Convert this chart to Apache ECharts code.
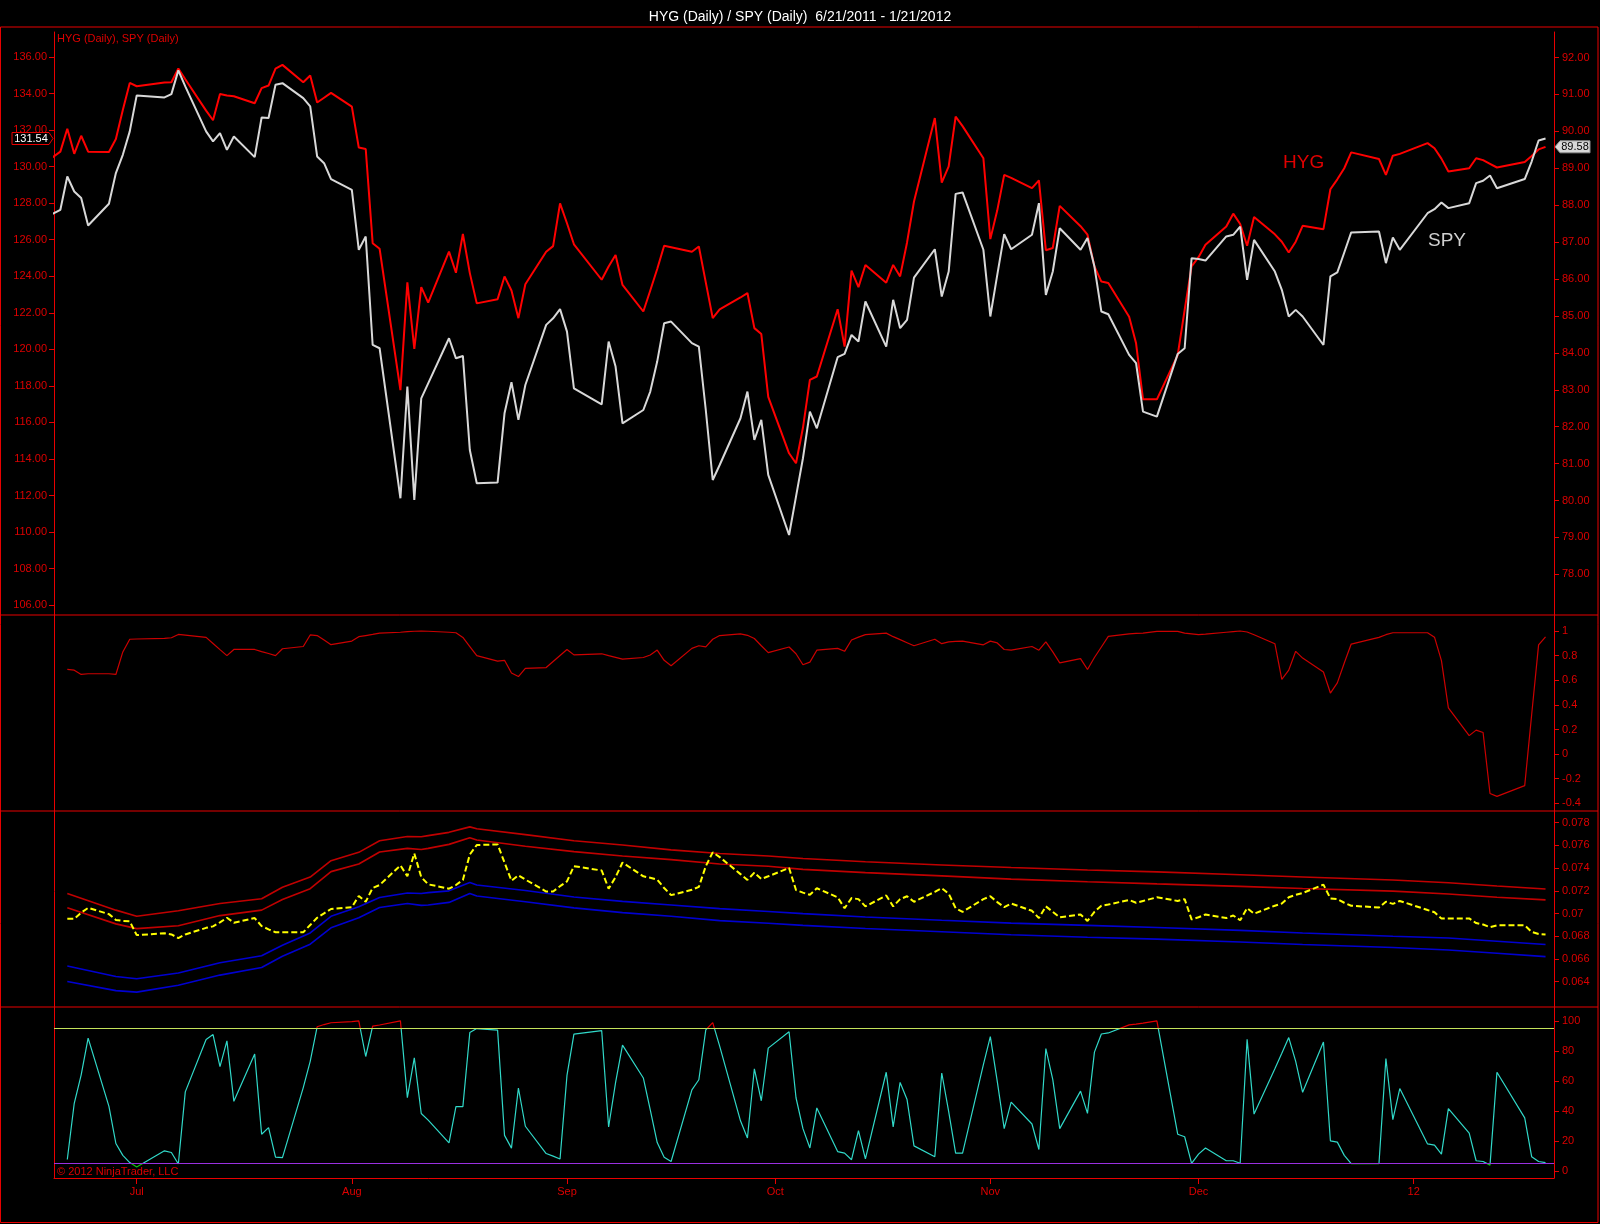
<!DOCTYPE html>
<html><head><meta charset="utf-8">
<script src="https://cdn.jsdelivr.net/npm/echarts@6/dist/echarts.min.js"></script>
<style>html,body{margin:0;padding:0;background:#000;}#c{width:1600px;height:1224px;}</style>
</head><body><div id="c"></div>
<script>
// ---------- DATA ----------
const dates = [
'2011-06-17','2011-06-20','2011-06-21','2011-06-22','2011-06-23','2011-06-24','2011-06-27','2011-06-28','2011-06-29','2011-06-30',
'2011-07-01','2011-07-05','2011-07-06','2011-07-07','2011-07-08','2011-07-11','2011-07-12','2011-07-13','2011-07-14','2011-07-15','2011-07-18','2011-07-19','2011-07-20','2011-07-21','2011-07-22','2011-07-25','2011-07-26','2011-07-27','2011-07-28','2011-07-29',
'2011-08-01','2011-08-02','2011-08-03','2011-08-04','2011-08-05','2011-08-08','2011-08-09','2011-08-10','2011-08-11','2011-08-12','2011-08-15','2011-08-16','2011-08-17','2011-08-18','2011-08-19','2011-08-22','2011-08-23','2011-08-24','2011-08-25','2011-08-26','2011-08-29','2011-08-30','2011-08-31',
'2011-09-01','2011-09-02','2011-09-06','2011-09-07','2011-09-08','2011-09-09','2011-09-12','2011-09-13','2011-09-14','2011-09-15','2011-09-16','2011-09-19','2011-09-20','2011-09-21','2011-09-22','2011-09-23','2011-09-26','2011-09-27','2011-09-28','2011-09-29','2011-09-30',
'2011-10-03','2011-10-04','2011-10-05','2011-10-06','2011-10-07','2011-10-10','2011-10-11','2011-10-12','2011-10-13','2011-10-14','2011-10-17','2011-10-18','2011-10-19','2011-10-20','2011-10-21','2011-10-24','2011-10-25','2011-10-26','2011-10-27','2011-10-28','2011-10-31',
'2011-11-01','2011-11-02','2011-11-03','2011-11-04','2011-11-07','2011-11-08','2011-11-09','2011-11-10','2011-11-11','2011-11-14','2011-11-15','2011-11-16','2011-11-17','2011-11-18','2011-11-21','2011-11-22','2011-11-23','2011-11-25','2011-11-28','2011-11-29','2011-11-30',
'2011-12-01','2011-12-02','2011-12-05','2011-12-06','2011-12-07','2011-12-08','2011-12-09','2011-12-12','2011-12-13','2011-12-14','2011-12-15','2011-12-16','2011-12-19','2011-12-20','2011-12-21','2011-12-22','2011-12-23','2011-12-27','2011-12-28','2011-12-29','2011-12-30',
'2012-01-03','2012-01-04','2012-01-05','2012-01-06','2012-01-09','2012-01-10','2012-01-11','2012-01-12','2012-01-13','2012-01-17','2012-01-18','2012-01-19','2012-01-20'];

const spy = [
127.03,127.64,129.46,128.64,128.28,126.78,127.97,129.65,130.65,131.93,
133.90,133.79,133.97,135.27,134.39,131.93,131.38,131.84,130.92,131.65,130.52,132.69,132.66,134.48,134.57,133.75,133.30,130.56,130.19,129.32,
128.73,125.45,126.18,120.24,120.06,111.85,117.96,111.76,117.32,118.14,120.61,119.51,119.64,114.49,112.67,112.71,116.50,118.20,116.14,118.05,121.34,121.70,122.20,
120.97,117.87,116.99,120.43,119.06,115.95,116.68,117.69,119.33,121.43,121.52,120.34,120.15,116.68,112.85,113.67,116.23,117.69,115.04,116.14,113.13,
109.84,111.94,114.04,116.59,115.68,119.57,119.75,120.79,120.43,122.62,120.15,122.71,121.16,121.61,123.93,125.48,122.89,124.26,128.51,128.59,125.45,
121.80,124.08,126.31,125.48,126.27,128.00,122.98,124.26,126.63,125.45,126.09,124.53,122.07,121.92,119.70,119.24,116.59,116.32,119.75,120.06,124.99,
124.94,124.86,126.18,126.27,126.72,123.80,125.99,124.26,123.26,121.80,122.16,121.80,120.24,123.99,124.21,125.30,126.40,126.45,124.72,126.12,125.45,
127.45,127.67,128.04,127.73,128.00,129.10,129.23,129.52,128.82,129.32,130.28,131.43,131.54];

const hyg = [
89.03,89.45,90.07,89.39,89.88,89.45,89.44,89.79,90.58,91.31,
91.22,91.32,91.33,91.70,91.41,90.56,90.30,91.01,90.97,90.95,90.76,91.17,91.24,91.70,91.80,91.33,91.51,90.78,90.91,91.04,
90.67,89.56,89.52,86.97,86.82,82.99,85.91,84.11,85.78,85.36,86.74,86.17,87.22,86.16,85.34,85.45,86.07,85.69,84.94,85.86,86.74,86.89,88.05,
87.51,86.94,85.98,86.34,86.65,85.84,85.12,85.69,86.27,86.90,86.86,86.74,86.88,85.91,84.94,85.18,85.50,85.62,84.67,84.51,82.81,
81.28,81.01,81.97,83.27,83.36,85.18,84.17,86.23,85.78,86.38,85.90,86.38,86.07,86.99,88.10,90.36,88.61,89.05,90.40,90.14,89.27,
87.08,87.86,88.82,88.74,88.46,88.67,86.78,86.84,87.98,87.43,87.20,86.34,85.93,85.89,84.98,84.26,82.74,82.74,83.94,85.16,86.34,
86.59,86.93,87.42,87.77,87.49,86.90,87.68,87.21,87.01,86.72,87.01,87.44,87.35,88.43,88.70,89.00,89.43,89.25,88.82,89.34,89.39,
89.68,89.54,89.26,88.91,89.00,89.27,89.22,89.12,89.02,89.17,89.33,89.51,89.58];

// indicators start on 2011-06-21 (dates index 2)
const corr = [
0.688,0.682,0.647,0.653,0.653,0.647,0.830,0.933,
0.935,0.940,0.945,0.972,0.966,0.948,0.899,0.849,0.800,0.850,0.850,0.833,0.817,0.800,0.856,0.874,0.968,0.963,0.926,0.889,
0.918,0.954,0.963,0.972,0.983,0.990,0.995,0.998,0.999,0.998,0.990,0.986,0.948,0.874,0.800,0.756,0.762,0.659,0.630,0.697,0.703,0.752,0.801,
0.850,0.806,0.815,0.800,0.786,0.771,0.785,0.805,0.845,0.762,0.718,0.859,0.880,0.871,0.933,0.963,0.977,0.965,0.939,0.880,0.824,
0.870,0.815,0.726,0.747,0.844,0.859,0.835,0.927,0.950,0.971,0.983,0.954,0.930,0.905,0.880,0.933,0.897,0.912,0.915,0.918,0.888,
0.918,0.903,0.850,0.844,0.874,0.844,0.912,0.830,0.741,0.776,0.687,0.785,0.870,0.956,0.977,0.980,0.983,0.997,0.997,0.983,0.977,
0.971,0.975,0.990,0.995,1.000,0.992,0.970,0.897,0.608,0.682,0.835,0.780,0.667,0.496,0.579,0.740,0.894,0.948,0.970,0.986,0.986,
0.986,0.950,0.760,0.376,0.150,0.195,0.176,-0.320,-0.343,-0.256,0.320,0.887,0.953];

const ratio = [
0.06954,0.06954,0.07008,0.07050,0.06995,0.06944,0.06935,0.06931,
0.06810,0.06826,0.06816,0.06784,0.06816,0.06874,0.06887,0.06922,0.06963,0.06919,0.06960,0.06890,0.06861,0.06835,0.06835,0.06835,0.06899,0.06963,0.07002,0.07040,
0.07056,0.07155,0.07104,0.07225,0.07251,0.07424,0.07328,0.07529,0.07321,0.07257,0.07219,0.07251,0.07296,0.07520,0.07603,0.07609,0.07449,0.07289,0.07337,0.07299,0.07194,0.07194,0.07241,
0.07283,0.07417,0.07379,0.07219,0.07321,0.07449,0.07328,0.07315,0.07299,0.07225,0.07162,0.07209,0.07235,0.07417,0.07539,0.07497,0.07347,0.07296,0.07360,0.07305,0.07328,
0.07401,0.07207,0.07184,0.07165,0.07223,0.07143,0.07047,0.07136,0.07127,0.07063,0.07159,0.07063,0.07127,0.07152,0.07104,0.07191,0.07223,0.07175,0.07047,0.07015,0.07127,
0.07152,0.07101,0.07056,0.07088,0.07024,0.06960,0.07063,0.07015,0.06967,0.06992,0.06935,0.07015,0.07069,0.07079,0.07120,0.07095,0.07111,0.07143,0.07111,0.07127,0.06948,
0.06967,0.06992,0.06960,0.06983,0.06941,0.07047,0.06999,0.07069,0.07088,0.07143,0.07165,0.07181,0.07255,0.07133,0.07127,0.07095,0.07069,0.07053,0.07104,0.07085,0.07111,
0.07031,0.07012,0.06957,0.06957,0.06957,0.06916,0.06903,0.06880,0.06896,0.06896,0.06839,0.06820,0.06816];

const stoch = [
7.5,45.0,64.0,88.5,43.0,18.2,10.3,5.5,
2.5,13.3,12.2,4.5,52.6,87.5,90.8,69.5,86.6,46.3,77.8,24.4,28.8,9.1,8.8,55.5,73.0,96.0,97.5,98.7,
99.5,100,76.2,96.5,97.2,100,48.8,75.3,38.2,33.8,18.6,42.8,42.8,92.2,94.8,93.8,23.6,15.1,55.2,29.7,11.5,9.8,7.9,
63.6,91.1,93.5,29.2,58.8,83.8,61.9,40.6,18.8,9.1,6.2,53.9,60.7,94.0,98.8,83.1,33.3,21.9,68.0,46.7,81.8,
92.7,48.7,28.1,15.2,41.9,12.8,11.8,7.4,26.8,7.9,65.7,29.3,58.9,47.5,16.6,9.4,65.2,39.5,11.8,11.8,70.8,
89.5,59.6,28.1,45.8,31.2,14.2,81.5,60.8,28.1,53.1,38.3,79.1,91.2,91.9,97.3,97.8,98.5,100,24.4,22.7,5.0,
11.1,15.2,6.7,6.7,5.0,87.6,37.8,68.1,78.3,88.8,73.0,52.3,85.9,20.0,19.1,10.3,4.8,4.8,74.9,34.1,54.8,
17.9,17.1,11.1,41.4,25.1,6.7,6.2,3.8,65.7,35.3,9.4,6.2,5.5];

const bandDates = ['2011-06-21','2011-06-28','2011-07-01','2011-07-07','2011-07-13','2011-07-19','2011-07-22','2011-07-26','2011-07-29','2011-08-02','2011-08-05','2011-08-09','2011-08-11','2011-08-12','2011-08-15','2011-08-18','2011-08-19','2011-08-26','2011-09-02','2011-09-09','2011-09-16','2011-09-23','2011-09-30','2011-10-05','2011-10-14','2011-10-25','2011-11-04','2011-11-15','2011-11-25','2011-12-07','2011-12-16','2011-12-29','2012-01-06','2012-01-13','2012-01-20'];
const bandUpper2 = [0.07177,0.07030,0.06976,0.07024,0.07088,0.07130,0.07232,0.07321,0.07465,0.07539,0.07641,0.07679,0.07676,0.07686,0.07715,0.07763,0.07747,0.07695,0.07641,0.07603,0.07561,0.07529,0.07507,0.07485,0.07456,0.07428,0.07405,0.07383,0.07367,0.07341,0.07322,0.07296,0.07271,0.07242,0.07216];
const bandUpper1 = [0.07050,0.06909,0.06867,0.06893,0.06982,0.07030,0.07123,0.07219,0.07369,0.07436,0.07542,0.07574,0.07564,0.07574,0.07609,0.07667,0.07647,0.07593,0.07545,0.07507,0.07475,0.07436,0.07417,0.07389,0.07360,0.07332,0.07303,0.07280,0.07261,0.07239,0.07220,0.07197,0.07172,0.07143,0.07120];
const bandLower1 = [0.06538,0.06445,0.06426,0.06477,0.06567,0.06628,0.06720,0.06829,0.06976,0.07059,0.07142,0.07181,0.07177,0.07184,0.07200,0.07273,0.07251,0.07203,0.07146,0.07107,0.07075,0.07043,0.07018,0.06999,0.06970,0.06941,0.06916,0.06896,0.06877,0.06852,0.06829,0.06800,0.06784,0.06756,0.06727];
const bandLower2 = [0.06401,0.06321,0.06308,0.06369,0.06458,0.06525,0.06624,0.06730,0.06874,0.06963,0.07053,0.07088,0.07072,0.07075,0.07098,0.07177,0.07155,0.07104,0.07050,0.07008,0.06976,0.06938,0.06915,0.06896,0.06868,0.06839,0.06813,0.06791,0.06775,0.06749,0.06727,0.06701,0.06679,0.06650,0.06621];

const stochLevels = [95, 5];
const monthTicks = ['2011-07-01','2011-08-01','2011-09-01','2011-10-01','2011-11-01','2011-12-01','2012-01-01'];
const monthLabels = ['Jul','Aug','Sep','Oct','Nov','Dec','12'];
const spyTicks = [106,108,110,112,114,116,118,120,122,124,126,128,130,132,134,136];
const hygTicks = [78,79,80,81,82,83,84,85,86,87,88,89,90,91,92];
const corrTicks = [-0.4,-0.2,0,0.2,0.4,0.6,0.8,1];
const ratioTicks = [0.064,0.066,0.068,0.07,0.072,0.074,0.076,0.078];
const stochTicks = [0,20,40,60,80,100];

// ---------- CHART ----------
const RED = '#e80000', LABEL = '#dd0000';
const STOCH_HI = '#e00000', STOCH_MID = '#30d8c8', STOCH_LO = '#10c010';
const FONT = '"Liberation Sans", Arial, sans-serif';
const ts = s => { const p = s.split('-'); return Date.UTC(+p[0], +p[1]-1, +p[2]); };
const pairs = (ds, vs) => vs.map((v, i) => [ts(ds[i]), v]);
const indDates = dates.slice(2);
const monthTs = monthTicks.map(ts);
const X0 = Date.UTC(2011,5,19,2,0), X1 = Date.UTC(2012,0,21,5,17);

const chart = echarts.init(document.getElementById('c'), null, {width:1600, height:1224});

function xax(g, show) {
  return {type:'value', gridIndex:g, min:X0, max:X1, show:show,
    axisLine:{show:show, onZero:false, lineStyle:{color:RED}},
    axisTick:{show:show, customValues:monthTs, length:6, lineStyle:{color:RED}},
    axisLabel:{show:show, customValues:monthTs, margin:8, color:LABEL, fontSize:11, fontFamily:FONT,
      formatter: v => { const i = monthTs.indexOf(v); return i >= 0 ? monthLabels[i] : ''; }},
    splitLine:{show:false}};
}
function yax(g, pos, min, max, ticks, fmt, margin) {
  return {type:'value', gridIndex:g, position:pos, min:min, max:max,
    axisLine:{show:true, onZero:false, lineStyle:{color:RED}},
    axisTick:{show:true, length:5, customValues:ticks, lineStyle:{color:RED}},
    axisLabel:{show:true, customValues:ticks, margin:margin, color:LABEL, fontSize:11, fontFamily:FONT, formatter:fmt},
    splitLine:{show:false}};
}
const line = (name, xi, yi, data, color, width, extra) => Object.assign({
  name:name, type:'line', xAxisIndex:xi, yAxisIndex:yi, data:data, symbol:'none', showSymbol:false,
  clip:true, animation:false, lineStyle:{color:color, width:width}, itemStyle:{color:color}}, extra || {});

const G3 = {top:1007, height:171};
const grid = (top, height) => ({left:54, width:1500, top:top, height:height, outerBoundsMode:'none', containLabel:false});

const option = {
  backgroundColor:'#000',
  animation:false,
  title:{text:'HYG (Daily) / SPY (Daily)  6/21/2011 - 1/21/2012', left:'center', top:5,
    textStyle:{color:'#ffffff', fontSize:14, fontWeight:'normal', fontFamily:FONT}},
  grid:[grid(32,583), grid(615,196), grid(811,196), grid(G3.top,G3.height)],
  xAxis:[xax(0,false), xax(1,false), xax(2,false), xax(3,true)],
  yAxis:[
    yax(0,'left',105.46,137.37,spyTicks, v => v.toFixed(2), 7),
    yax(0,'right',76.90,92.69,hygTicks, v => v.toFixed(2), 8),
    yax(1,'right',-0.462,1.130,corrTicks, v => String(v), 8),
    yax(2,'right',0.06177,0.07903,ratioTicks, v => String(v), 8),
    yax(3,'right',-4.8,109.2,stochTicks, v => String(v), 8)
  ],
  series:[
    line('HYG',0,1,pairs(dates,hyg),'#ff0000',2),
    line('SPY',0,0,pairs(dates,spy),'#d8d8d8',2),
    line('Correlation',1,2,pairs(indDates,corr),'#cc0000',1.2),
    line('Upper 2',2,3,pairs(bandDates,bandUpper2),'#c00000',1.6),
    line('Upper 1',2,3,pairs(bandDates,bandUpper1),'#c00000',1.6),
    line('Lower 1',2,3,pairs(bandDates,bandLower1),'#0000d0',1.6),
    line('Lower 2',2,3,pairs(bandDates,bandLower2),'#0000d0',1.6),
    line('Ratio',2,3,pairs(indDates,ratio),'#ffff00',2,{lineStyle:{color:'#ffff00', width:2, type:[6,3]}}),
    line('Stoch',3,4,pairs(indDates,stoch),STOCH_MID,1.2,{
      markLine:{silent:true, symbol:'none', animation:false, label:{show:false},
        data:[{yAxis:stochLevels[0], lineStyle:{color:'#c4e25a', width:1.2, type:'solid'}},
              {yAxis:stochLevels[1], lineStyle:{color:'#9a30e0', width:1.2, type:'solid'}}]}})
  ]
};
chart.setOption(option);

// colour the stochastic red above the upper level and green below the lower level
const yHi = chart.convertToPixel({yAxisIndex:4}, stochLevels[0]);
const yLo = chart.convertToPixel({yAxisIndex:4}, stochLevels[1]);
const oHi = (yHi - G3.top) / G3.height, oLo = (yLo - G3.top) / G3.height;
const stochGrad = {type:'linear', x:0, y:G3.top, x2:0, y2:G3.top + G3.height, global:true,
  colorStops:[{offset:0, color:STOCH_HI},{offset:oHi, color:STOCH_HI},{offset:oHi, color:STOCH_MID},
              {offset:oLo, color:STOCH_MID},{offset:oLo, color:STOCH_LO},{offset:1, color:STOCH_LO}]};

// markers and frame
const lastSpy = spy[spy.length-1], lastHyg = hyg[hyg.length-1];
const yS = chart.convertToPixel({yAxisIndex:0}, lastSpy);
const yH = chart.convertToPixel({yAxisIndex:1}, lastHyg);
const seg = (x1,y1,x2,y2) => ({type:'line', shape:{x1:x1,y1:y1,x2:x2,y2:y2}, style:{stroke:RED, lineWidth:1}, silent:true});
chart.setOption({
 series:[{},{},{},{},{},{},{},{},{lineStyle:{color:stochGrad, width:1.2}}],
 graphic:[
  {type:'rect', shape:{x:0.5, y:27, width:1597.5, height:1195.5}, style:{fill:'none', stroke:RED, lineWidth:1}, silent:true},
  seg(0,615,1598,615), seg(0,811,1598,811), seg(0,1007,1598,1007),
  seg(54.5,32,54.5,1178), seg(1554.5,32,1554.5,1178),
  {type:'text', x:57, y:39, style:{text:'HYG (Daily), SPY (Daily)', fill:LABEL, font:'11px '+FONT, textVerticalAlign:'middle'}},
  {type:'text', x:57, y:1172, style:{text:'\u00a9 2012 NinjaTrader, LLC', fill:LABEL, font:'11px '+FONT, textVerticalAlign:'middle'}},
  {type:'text', x:1283, y:163, style:{text:'HYG', fill:'#e00000', font:'19px '+FONT, textVerticalAlign:'middle'}},
  {type:'text', x:1428, y:241, style:{text:'SPY', fill:'#d0d0d0', font:'19px '+FONT, textVerticalAlign:'middle'}},
  {type:'polygon', shape:{points:[[12,yS-6],[49,yS-6],[53,yS],[49,yS+6],[12,yS+6]]}, style:{fill:'#000', stroke:RED, lineWidth:1}, silent:true},
  {type:'text', x:31, y:yS, style:{text:lastSpy.toFixed(2), fill:'#ffffff', font:'11px '+FONT, textAlign:'center', textVerticalAlign:'middle'}},
  {type:'polygon', shape:{points:[[1555,yH],[1560,yH-6],[1590,yH-6],[1590,yH+6],[1560,yH+6]]}, style:{fill:'#d8d8d8', stroke:'#909090', lineWidth:1}, silent:true},
  {type:'text', x:1575, y:yH, style:{text:lastHyg.toFixed(2), fill:'#000000', font:'11px '+FONT, textAlign:'center', textVerticalAlign:'middle'}}
]});
</script>
</body></html>
